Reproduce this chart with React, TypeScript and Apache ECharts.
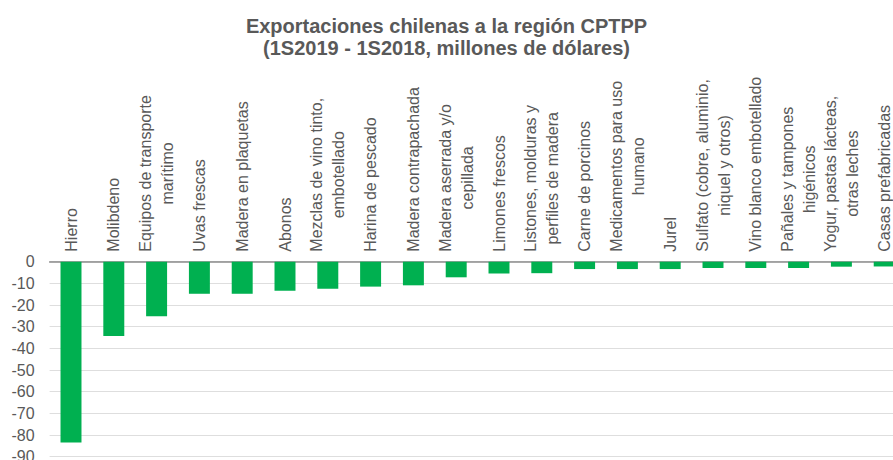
import React, { useEffect, useRef } from "react";
import * as echarts from "echarts";

const titleLines = [
  "Exportaciones chilenas a la región CPTPP",
  "(1S2019 - 1S2018, millones de dólares)",
];

const categories = [
  "Hierro",
  "Molibdeno",
  "Equipos de transporte\nmarítimo",
  "Uvas frescas",
  "Madera en plaquetas",
  "Abonos",
  "Mezclas de vino tinto,\nembotellado",
  "Harina de pescado",
  "Madera contrapachada",
  "Madera aserrada y/o\ncepillada",
  "Limones frescos",
  "Listones, molduras y\nperfiles de madera",
  "Carne de porcinos",
  "Medicamentos para uso\nhumano",
  "Jurel",
  "Sulfato (cobre, aluminio,\nniquel y otros)",
  "Vino blanco embotellado",
  "Pañales y tampones\nhigénicos",
  "Yogur, pastas lácteas,\notras leches",
  "Casas prefabricadas",
];

const values = [
  -83.5, -34.3, -25.2, -14.8, -14.8, -13.4, -12.5, -11.5, -10.9, -7.2,
  -5.4, -5.3, -3.4, -3.4, -3.4, -2.9, -2.9, -2.9, -2.3, -2.2,
];

const yMin = -90;
const yMax = 0;
const yStep = 10;

const TEXT = "#595959";
const FONT = "'Liberation Sans', Arial, sans-serif";

export default function App() {
  const ref = useRef<HTMLDivElement>(null);

  useEffect(() => {
    if (!ref.current) return;
    const chart = echarts.init(ref.current, null, { renderer: "svg" });
    chart.setOption({
      animation: false,
      backgroundColor: "#ffffff",
      title: {
        text: titleLines.join("\n"),
        left: "center",
        top: 10,
        textStyle: {
          fontFamily: FONT,
          fontSize: 20,
          fontWeight: "bold",
          color: TEXT,
          lineHeight: 22,
        },
      },
      grid: {
        left: 49.6,
        top: 261.7,
        width: 856,
        height: 195,
        containLabel: false,
        outerBoundsMode: "none",
      },
      xAxis: {
        type: "category",
        position: "top",
        data: categories,
        axisLine: { show: true, lineStyle: { color: "#8c8c8c", width: 1.5 } },
        axisTick: { show: false },
        axisLabel: {
          interval: 0,
          rotate: 90,
          margin: 10,
          fontFamily: FONT,
          fontSize: 16,
          color: TEXT,
          formatter: (v: string) =>
            v
              .split("\n")
              .map((l) => `{c|${l}}`)
              .join("\n"),
          rich: {
            c: {
              align: "center",
              fontFamily: FONT,
              fontSize: 16,
              color: TEXT,
              lineHeight: 22,
            },
          },
        },
      },
      yAxis: {
        type: "value",
        min: yMin,
        max: yMax,
        interval: yStep,
        axisLine: { show: false },
        axisTick: { show: false },
        splitLine: { show: true, lineStyle: { color: "#dedede", width: 1 } },
        axisLabel: {
          margin: 15,
          fontFamily: FONT,
          fontSize: 16,
          color: TEXT,
        },
      },
      series: [
        {
          type: "bar",
          data: values,
          barWidth: "49%",
          itemStyle: { color: "#00b050" },
        },
      ],
    });
    return () => chart.dispose();
  }, []);

  return (
    <div
      ref={ref}
      style={{ position: "fixed", left: 0, top: 0, width: 893, height: 460 }}
    />
  );
}
